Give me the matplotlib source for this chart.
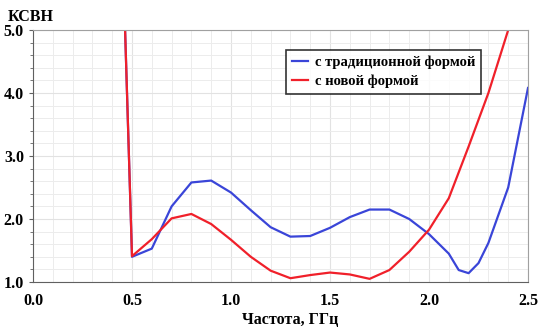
import numpy as np
import matplotlib
matplotlib.use("Agg")
import matplotlib.pyplot as plt
from matplotlib.ticker import MultipleLocator

# частота, ГГц
freq_trad = [0.4, 0.5, 0.6, 0.7, 0.8, 0.9, 1.0, 1.1, 1.2, 1.3, 1.4, 1.5, 1.6, 1.7,
             1.8, 1.9, 2.0, 2.1, 2.15, 2.2, 2.25, 2.3, 2.4, 2.5]
vswr_trad = [11.7, 1.40, 1.53, 2.20, 2.58, 2.61, 2.42, 2.14, 1.87, 1.72, 1.73, 1.86,
             2.03, 2.15, 2.15, 2.00, 1.76, 1.45, 1.19, 1.14, 1.30, 1.62, 2.50, 4.08]

freq_new = [0.4, 0.5, 0.6, 0.7, 0.8, 0.9, 1.0, 1.1, 1.2, 1.3, 1.4, 1.5, 1.6, 1.7,
            1.8, 1.9, 2.0, 2.1, 2.2, 2.3, 2.4, 2.5]
vswr_new = [11.7, 1.41, 1.68, 2.01, 2.08, 1.92, 1.67, 1.40, 1.18, 1.06, 1.11, 1.15,
            1.12, 1.05, 1.19, 1.48, 1.83, 2.33, 3.15, 4.00, 5.00, 6.00]

labels = ["с традиционной формой", "с новой формой"]

plt.rcParams['font.family'] = ['Liberation Serif', 'DejaVu Serif']
plt.rcParams['font.weight'] = 'bold'

fig = plt.figure(figsize=(5.4, 3.29), dpi=100)
ax = fig.add_axes([33 / 540, 1 - 282 / 329, 495 / 540, 252 / 329])

ax.plot(freq_trad, vswr_trad, color='#3a45d8', lw=1.6, label=labels[0])
ax.plot(freq_new, vswr_new, color='#f0202a', lw=1.6, label=labels[1])

ax.set_xlim(0, 2.5)
ax.set_ylim(1.0, 5.0)
ax.xaxis.set_major_locator(MultipleLocator(0.5))
ax.xaxis.set_minor_locator(MultipleLocator(0.1))
ax.yaxis.set_major_locator(MultipleLocator(1.0))
ax.yaxis.set_minor_locator(MultipleLocator(0.2))
ax.xaxis.set_major_formatter(matplotlib.ticker.FormatStrFormatter('%.1f'))
ax.yaxis.set_major_formatter(matplotlib.ticker.FormatStrFormatter('%.1f'))

ax.grid(which='major', color='#e2e2e2', lw=0.8)
ax.grid(which='minor', color='#ececec', lw=0.7)
ax.set_axisbelow(True)

for s in ['top', 'right']:
    ax.spines[s].set_color('#a0a0a0')
for s in ['left', 'bottom']:
    ax.spines[s].set_color('#606060')

ax.tick_params(axis='both', which='major', labelsize=11.5, length=3, color='#606060')
ax.tick_params(axis='both', which='minor', length=2, color='#606060')
ax.tick_params(axis='x', which='both', length=0, pad=8)

fig.text(8 / 540, 1 - 17 / 329, "КСВН", fontsize=11.5, fontweight='bold', va='center')
fig.text(290 / 540, 1 - 320 / 329, "Частота, ГГц", fontsize=11.5, fontweight='bold',
         ha='center', va='center')

leg = ax.legend(loc='upper left', bbox_to_anchor=(253 / 495, 1 - 20 / 252),
                borderaxespad=0, fontsize=10.5, frameon=True, fancybox=False,
                edgecolor='black', handlelength=1.1, borderpad=0.4,
                labelspacing=0.35, handletextpad=0.5)
leg.get_frame().set_linewidth(1.2)

fig.savefig("out.png", dpi=100)
